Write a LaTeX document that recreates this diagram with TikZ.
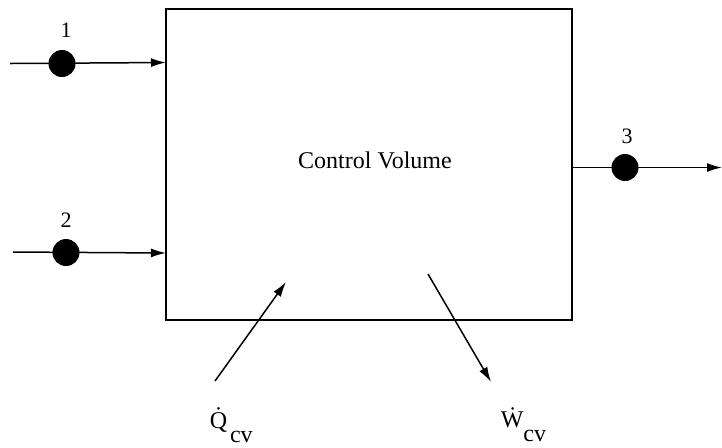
\documentclass[tikz,border=0pt]{standalone}
\usepackage{fontspec}
\setmainfont{Liberation Serif}
\usetikzlibrary{arrows.meta}
\begin{document}
\begin{tikzpicture}[x=0.5pt,y=-0.5pt,
  line width=0.75pt,
  flow/.style={-{Latex[length=7.5pt,width=4.5pt]}},
  ball/.style={fill=black},
  lbl/.style={font=\fontsize{11}{13}\selectfont,inner sep=0pt},
  txt/.style={font=\fontsize{12}{14}\selectfont,inner sep=0pt}]
\useasboundingbox (0,0) rectangle (722,447);
\coordinate (nw) at (166,9);
\coordinate (se) at (572,320);
\draw (nw) rectangle (se);
\node[txt,anchor=base] (cvt) at (375,168) {Control Volume};
% inlet 1
\coordinate (s1) at (10,63.5);
\coordinate (e1) at (166,62.5);
\coordinate (d1) at (62,63.5);
\node[lbl] (l1) at (66,30) {1};
\draw[flow] (s1) -- (e1);
\fill[ball] (d1) circle[radius=6.75pt];
% inlet 2
\coordinate (s2) at (13,252);
\coordinate (e2) at (166,253);
\coordinate (d2) at (66,252.5);
\node[lbl] (l2) at (66,220) {2};
\draw[flow] (s2) -- (e2);
\fill[ball] (d2) circle[radius=6.75pt];
% outlet 3
\coordinate (s3) at (572,167.5);
\coordinate (e3) at (722,167.5);
\coordinate (d3) at (625,167.5);
\node[lbl] (l3) at (627,136) {3};
\draw[flow] (s3) -- (e3);
\fill[ball] (d3) circle[radius=6.75pt];
% heat
\coordinate (qs) at (215,381);
\coordinate (qe) at (286,282);
\draw[flow] (qs) -- (qe);
\node[txt,anchor=base west] (q) at (209,428) {\.{Q}\kern1.5pt\raisebox{-7pt}{cv}};
% work
\coordinate (ws) at (428,274);
\coordinate (we) at (491,382);
\draw[flow] (ws) -- (we);
\node[txt,anchor=base west] (w) at (500,427) {\.{W}\raisebox{-7pt}{cv}};
\end{tikzpicture}
\end{document}
